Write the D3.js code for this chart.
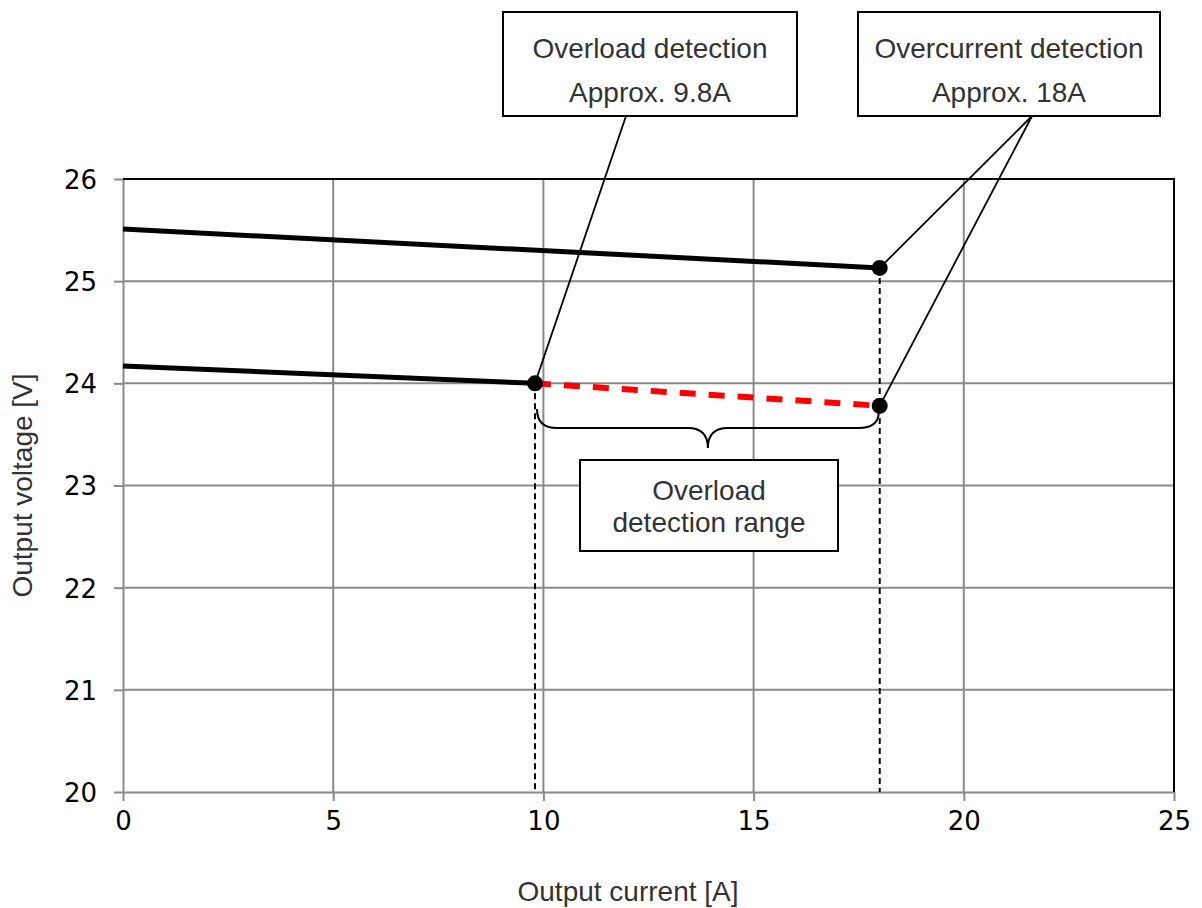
<!DOCTYPE html>
<html>
<head>
<meta charset="utf-8">
<script src="https://cdn.jsdelivr.net/npm/d3@7"></script>
<style>
  body { margin: 0; background: #fff; }
  .tick text { font-family: "DejaVu Sans", Verdana, sans-serif; font-size: 26px; fill: #000; }
  .note { font-family: "Liberation Sans", Arial, sans-serif; font-size: 28px; fill: #333; }
</style>
</head>
<body>
<svg id="chart"></svg>
<script>
// values
const xTicks = [0, 5, 10, 15, 20, 25];
const yTicks = [20, 21, 22, 23, 24, 25, 26];
const upperCurrent = [0, 18];
const upperVoltage = [25.51, 25.13];
const lowerCurrent = [0, 9.8];
const lowerVoltage = [24.17, 24.0];
const rangeCurrent = [9.8, 18];
const rangeVoltage = [24.0, 23.78];
const overloadPoint = { x: 9.8, y: 24.0 };
const overcurrentPoints = [{ x: 18, y: 25.13 }, { x: 18, y: 23.78 }];

const width = 1202, height = 908;
const margin = { top: 179, right: 28, bottom: 116, left: 123 };
const innerW = width - margin.left - margin.right;
const innerH = height - margin.top - margin.bottom;

const svg = d3.select('#chart').attr('width', width).attr('height', height);
const g = svg.append('g').attr('transform', `translate(${margin.left},${margin.top})`);

const x = d3.scaleLinear().domain([0, 25]).range([0, innerW]);
const y = d3.scaleLinear().domain([20, 26]).range([innerH, 0]);

// grid
g.selectAll('.vgrid').data(xTicks.slice(1, -1)).join('line')
  .attr('x1', d => x(d)).attr('x2', d => x(d)).attr('y1', 0).attr('y2', innerH)
  .attr('stroke', '#8a8a8a').attr('stroke-width', 2);
g.selectAll('.hgrid').data(yTicks.slice(1, -1)).join('line')
  .attr('x1', 0).attr('x2', innerW).attr('y1', d => y(d)).attr('y2', d => y(d))
  .attr('stroke', '#8a8a8a').attr('stroke-width', 2);

// axes
const xAxis = d3.axisBottom(x).tickValues(xTicks).tickFormat(d3.format('d')).tickSize(9).tickPadding(10).tickSizeOuter(0);
const yAxis = d3.axisLeft(y).tickValues(yTicks).tickFormat(d3.format('d')).tickSize(9).tickPadding(17).tickSizeOuter(0);
const xg = g.append('g').attr('transform', `translate(0,${innerH})`).call(xAxis);
const yg = g.append('g').call(yAxis);
[xg, yg].forEach(a => {
  a.select('.domain').attr('stroke', '#8a8a8a').attr('stroke-width', 2);
  a.selectAll('.tick line').attr('stroke', '#8a8a8a').attr('stroke-width', 2);
});
xg.selectAll('.tick text').attr('dy', '0.72em');
yg.selectAll('.tick text').attr('dy', '0.36em');

// black top and right frame
g.append('path')
  .attr('d', `M0,${y(26)}H${x(25)}V${y(20)}`)
  .attr('fill', 'none').attr('stroke', '#000').attr('stroke-width', 2);

// vertical dashed markers
g.append('line')
  .attr('x1', x(overloadPoint.x)).attr('x2', x(overloadPoint.x))
  .attr('y1', y(overloadPoint.y)).attr('y2', innerH)
  .attr('stroke', '#000').attr('stroke-width', 2).attr('stroke-dasharray', '6,4');
g.append('line')
  .attr('x1', x(18)).attr('x2', x(18))
  .attr('y1', y(upperVoltage[1])).attr('y2', innerH)
  .attr('stroke', '#000').attr('stroke-width', 2).attr('stroke-dasharray', '6,4');

const line = d3.line().x(d => x(d[0])).y(d => y(d[1]));

g.append('path').attr('d', line(d3.zip(upperCurrent, upperVoltage)))
  .attr('fill', 'none').attr('stroke', '#000').attr('stroke-width', 5);
g.append('path').attr('d', line(d3.zip(lowerCurrent, lowerVoltage)))
  .attr('fill', 'none').attr('stroke', '#000').attr('stroke-width', 5);
g.append('path').attr('d', line(d3.zip(rangeCurrent, rangeVoltage)))
  .attr('fill', 'none').attr('stroke', '#ff0000').attr('stroke-width', 6)
  .attr('stroke-dasharray', '16,13');

// brace under the overload range
const bx0 = x(rangeCurrent[0]) + 2, bx1 = x(rangeCurrent[1]) - 1;
const bm = (bx0 + bx1) / 2;
const by0 = y(23.75), by1 = by0 + 19, by2 = by1 + 20;
g.append('path')
  .attr('d', `M${bx0},${by0} Q${bx0},${by1} ${bx0 + 20},${by1} H${bm - 20} Q${bm},${by1} ${bm},${by2}` +
             ` Q${bm},${by1} ${bm + 20},${by1} H${bx1 - 20} Q${bx1},${by1} ${bx1},${by0 + 3}`)
  .attr('fill', 'none').attr('stroke', '#000').attr('stroke-width', 2);

// leader lines (page coordinates)
const px = v => margin.left + x(v), py = v => margin.top + y(v);
svg.append('line').attr('x1', 626).attr('y1', 116).attr('x2', px(overloadPoint.x)).attr('y2', py(overloadPoint.y))
  .attr('stroke', '#000').attr('stroke-width', 1.8);
overcurrentPoints.forEach(p => {
  svg.append('line').attr('x1', 1032).attr('y1', 116).attr('x2', px(p.x)).attr('y2', py(p.y))
    .attr('stroke', '#000').attr('stroke-width', 1.8);
});

// points
g.selectAll('.pt').data([overloadPoint, ...overcurrentPoints]).join('circle')
  .attr('cx', d => x(d.x)).attr('cy', d => y(d.y)).attr('r', 8).attr('fill', '#000');

// annotation boxes
const boxes = [
  { x: 503, y: 12, w: 294, h: 104, lines: ['Overload detection', 'Approx. 9.8A'], y0: 58, gap: 44 },
  { x: 858, y: 12, w: 302, h: 104, lines: ['Overcurrent detection', 'Approx. 18A'], y0: 58, gap: 44 },
  { x: 580, y: 460, w: 258, h: 91, lines: ['Overload', 'detection range'], y0: 500, gap: 32 }
];
boxes.forEach(b => {
  svg.append('rect').attr('x', b.x).attr('y', b.y).attr('width', b.w).attr('height', b.h)
    .attr('fill', '#fff').attr('stroke', '#000').attr('stroke-width', 2);
  b.lines.forEach((t, i) => {
    svg.append('text').attr('class', 'note').attr('text-anchor', 'middle')
      .attr('x', b.x + b.w / 2).attr('y', b.y0 + i * b.gap).text(t);
  });
});

// axis titles
svg.append('text').attr('class', 'note').attr('text-anchor', 'middle')
  .attr('x', 628).attr('y', 901).text('Output current [A]');
svg.append('text').attr('class', 'note').attr('text-anchor', 'middle')
  .attr('transform', `translate(32,${margin.top + innerH / 2}) rotate(-90)`).text('Output voltage [V]');
</script>
</body>
</html>
